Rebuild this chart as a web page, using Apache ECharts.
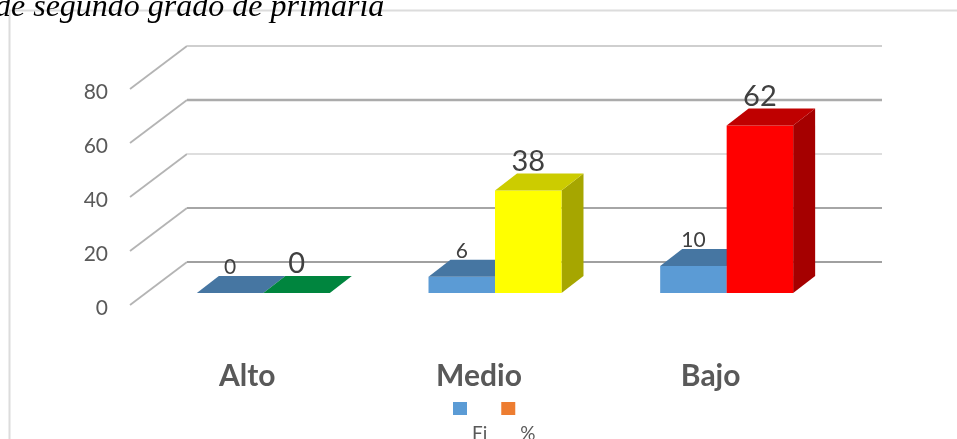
<!DOCTYPE html>
<html>
<head>
<meta charset="utf-8">
<style>html,body{margin:0;padding:0;background:#fff;overflow:hidden}#c{width:957px;height:439px}</style>
<script src="https://cdn.jsdelivr.net/npm/echarts@6/dist/echarts.min.js"></script>
</head>
<body>
<div id="c"></div>
<script>
const titleText = 'de segundo grado de primaria';
const categories = ['Alto', 'Medio', 'Bajo'];
const fiValues = [0, 6, 10];
const pctValues = [0, 38, 62];
const yTicks = [0, 20, 40, 60, 80];
const seriesNames = ['Fi', '%'];

const fiFaces = [
  { front: '#5B9BD5', top: '#4676A2', side: '#3F6B93' },
  { front: '#5B9BD5', top: '#4676A2', side: '#3F6B93' },
  { front: '#5B9BD5', top: '#4676A2', side: '#3F6B93' }
];
const pctFaces = [
  { front: '#00A14B', top: '#00853E', side: '#006F34' },
  { front: '#FFFF00', top: '#CCCC00', side: '#A6A600' },
  { front: '#FF0000', top: '#BF0000', side: '#A50000' }
];
const gridStyles = [
  { c: '#A0A0A0', w: 2 }, { c: '#A6A6A6', w: 2 }, { c: '#DEDEDE', w: 2 },
  { c: '#ABABAB', w: 2.4 }, { c: '#CFCFCF', w: 2 }
];
const FONT = 'Lato, "Open Sans", sans-serif';
const WALL_DX = 57, WALL_DY = 43;   // floor depth: front edge to back wall
const BAR_DX = 22, BAR_DY = 17;     // bar depth
const PLANE_DX = 17.5, PLANE_DY = 12; // bar plane behind the front edge
const BAR_RATIO = 0.287;

function barRenderer(faces, side, labelSize, labelGap) {
  return function (params, api) {
    const i = api.value(0), v = api.value(1);
    const p0 = api.coord([i, 0]), p1 = api.coord([i, v]);
    const w = api.size([1, 0])[0] * BAR_RATIO;
    const cx = p0[0] + PLANE_DX;
    const xl = side < 0 ? cx - w : cx, xr = xl + w;
    const yb = p0[1] - PLANE_DY, yt = p1[1] - PLANE_DY;
    const f = faces[i];
    const poly = (pts, fill) => ({ type: 'polygon', shape: { points: pts }, style: { fill } });
    const children = [];
    if (v > 0) {
      children.push(poly([[xr, yb], [xr + BAR_DX, yb - BAR_DY], [xr + BAR_DX, yt - BAR_DY], [xr, yt]], f.side));
      children.push(poly([[xl, yb], [xr, yb], [xr, yt], [xl, yt]], f.front));
    }
    children.push(poly([[xl, yt], [xr, yt], [xr + BAR_DX, yt - BAR_DY], [xl + BAR_DX, yt - BAR_DY]], f.top));
    children.push({
      type: 'text', z2: 10,
      style: {
        x: (xl + xr) / 2, y: yt - BAR_DY - labelGap, text: String(v),
        fontFamily: FONT, fontSize: labelSize, fill: '#404040', align: 'center', verticalAlign: 'middle'
      }
    });
    return { type: 'group', children };
  };
}

function wallRenderer(params, api) {
  const idx = params.dataIndex, v = api.value(0);
  const g = params.coordSys;
  const y = api.coord([0, v])[1];
  const s = gridStyles[idx];
  return {
    type: 'group',
    children: [
      {
        type: 'line',
        shape: { x1: g.x, y1: y, x2: g.x + WALL_DX, y2: y - WALL_DY },
        style: { stroke: '#B4B4B4', lineWidth: 1.8 }
      },
      {
        type: 'line',
        shape: { x1: g.x + WALL_DX, y1: y - WALL_DY, x2: g.x + g.width + WALL_DX, y2: y - WALL_DY },
        style: { stroke: s.c, lineWidth: s.w }
      }
    ]
  };
}

const chart = echarts.init(document.getElementById('c'), null, { renderer: 'canvas' });
chart.setOption({
  animation: false,
  backgroundColor: '#fff',
  title: {
    text: titleText, left: -5, top: -8, padding: 0,
    textStyle: { fontFamily: '"Liberation Serif", serif', fontStyle: 'italic', fontWeight: 'normal', fontSize: 32, color: '#000' }
  },
  graphic: [{
    type: 'polyline', silent: true, z: -1,
    shape: { points: [[9.5, 439], [9.5, 10.5], [957, 10.5]] },
    style: { stroke: '#DCDCDC', lineWidth: 2, fill: 'none' }
  }],
  legend: {
    data: seriesNames, left: 453, top: 402, padding: 0, icon: 'rect', itemWidth: 14, itemHeight: 13, itemGap: 14,
    itemStyle: { borderWidth: 0 },
    formatter: '{t|{name}}',
    textStyle: {
      color: '#595959',
      rich: { t: { fontFamily: FONT, fontSize: 19, color: '#595959', padding: [50, 0, 0, 0] } }
    }
  },
  grid: { left: 130, top: 89, width: 695, height: 216 },
  xAxis: {
    type: 'category', data: categories,
    axisLine: { show: false }, axisTick: { show: false }, splitLine: { show: false },
    axisLabel: {
      margin: 56, formatter: '{t|{value}}',
      rich: { t: { fontFamily: FONT, fontWeight: 'bold', fontSize: 30, color: '#595959', padding: [0, 0, 0, 3] } }
    }
  },
  yAxis: {
    type: 'value', min: 0, max: 80, interval: 20,
    axisLine: { show: false }, axisTick: { show: false }, splitLine: { show: false },
    axisLabel: {
      margin: 22, formatter: '{t|{value}}',
      rich: { t: { fontFamily: FONT, fontSize: 21, color: '#595959', padding: [6, 0, 0, 0] } }
    }
  },
  series: [
    {
      type: 'custom', silent: true, z: 1, legendHoverLink: false, clip: false,
      renderItem: wallRenderer, encode: { y: 0 }, data: yTicks.map(v => [v])
    },
    {
      name: seriesNames[0], type: 'custom', z: 2, clip: false, itemStyle: { color: '#5B9BD5' },
      renderItem: barRenderer(fiFaces, -1, 21, 9), encode: { x: 0, y: 1 },
      data: fiValues.map((v, i) => [i, v])
    },
    {
      name: seriesNames[1], type: 'custom', z: 3, clip: false, itemStyle: { color: '#ED7D31' },
      renderItem: barRenderer(pctFaces, 1, 29, 12), encode: { x: 0, y: 1 },
      data: pctValues.map((v, i) => [i, v])
    }
  ]
});
</script>
</body>
</html>
